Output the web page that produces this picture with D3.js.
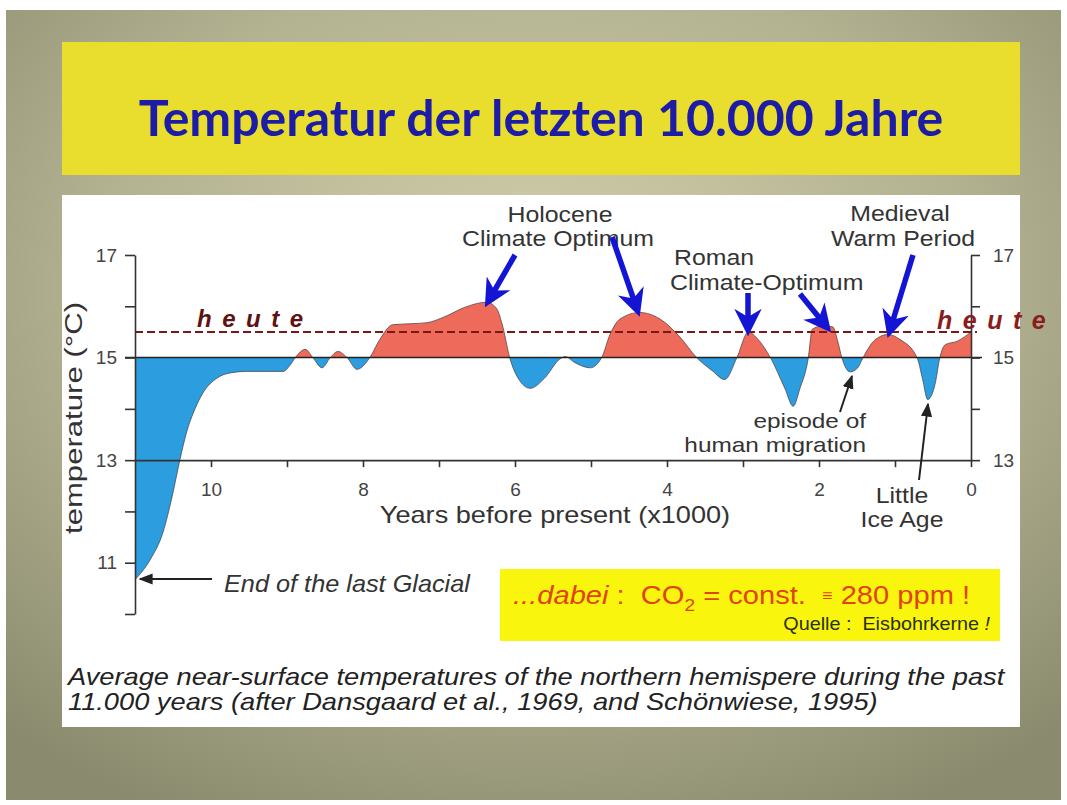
<!DOCTYPE html>
<html>
<head>
<meta charset="utf-8">
<script src="https://cdn.jsdelivr.net/npm/d3@7"></script>
<style>
  body { margin: 0; background: #fff; }
  svg text { font-family: "Liberation Sans", Arial, sans-serif; white-space: pre; }
</style>
</head>
<body>
<script>
// years before present (x1000) and temperature (°C)
var years = [11.0, 10.8, 10.63, 10.51, 10.41, 10.32, 10.21, 10.11, 9.92, 9.75, 9.53, 9.05,
  8.96, 8.89, 8.76, 8.66, 8.54, 8.43, 8.33, 8.21, 8.08, 7.91, 7.78, 7.61, 7.38, 7.16,
  6.92, 6.66, 6.37, 6.24, 6.16, 6.07, 5.96, 5.80, 5.61, 5.41, 5.34, 5.21, 5.01, 4.86,
  4.75, 4.62, 4.36, 4.09, 3.83, 3.61, 3.41, 3.24, 3.08, 2.93, 2.80, 2.64, 2.45, 2.34,
  2.25, 2.14, 2.09, 1.95, 1.82, 1.75, 1.70, 1.59, 1.49, 1.42, 1.26, 1.09, 0.93, 0.71,
  0.64, 0.57, 0.47, 0.41, 0.34, 0.18, 0.0];
var temps = [10.67, 11.06, 11.6, 12.3, 13.0, 13.55, 14.0, 14.3, 14.6, 14.7, 14.73, 14.73,
  14.85, 15.0, 15.16, 15.0, 14.8, 15.0, 15.12, 15.0, 14.77, 15.0, 15.35, 15.64, 15.66, 15.68,
  15.8, 15.98, 16.08, 15.95, 15.6, 15.0, 14.6, 14.4, 14.6, 14.97, 15.02, 14.9, 14.8, 15.0,
  15.45, 15.75, 15.88, 15.75, 15.4, 15.0, 14.75, 14.57, 15.0, 15.5, 15.35, 15.0, 14.4, 14.05,
  14.4, 15.0, 15.55, 15.62, 15.6, 15.3, 15.0, 14.72, 14.8, 15.0, 15.35, 15.45, 15.35, 15.0,
  14.6, 14.18, 14.5, 15.0, 15.25, 15.32, 15.5];

var baseTemp = 15;
var todayTemp = 15.5;
var leftTicks = [10, 11, 12, 13, 14, 15, 16, 17];
var leftLabels = [11, 13, 15, 17];
var rightTicks = [13, 14, 15, 16, 17];
var rightLabels = [13, 15, 17];
var xTicks = [0, 1, 2, 3, 4, 5, 6, 7, 8, 9, 10];
var xLabels = [0, 2, 4, 6, 8, 10];

var width = 1067, height = 805;

var svg = d3.select("body").append("svg")
  .attr("width", width)
  .attr("height", height);

var defs = svg.append("defs");
var bg = defs.append("radialGradient").attr("id", "bg")
  .attr("cx", "50%").attr("cy", "35%").attr("r", "75%");
bg.append("stop").attr("offset", "0%").attr("stop-color", "#d2cfaa");
bg.append("stop").attr("offset", "55%").attr("stop-color", "#b3b291");
bg.append("stop").attr("offset", "100%").attr("stop-color", "#8a8a6e");

svg.append("rect").attr("x", 6).attr("y", 10).attr("width", 1055).attr("height", 790)
  .attr("fill", "url(#bg)");

// title box
svg.append("rect").attr("x", 62).attr("y", 42).attr("width", 958).attr("height", 133)
  .attr("fill", "#e9dd2e");
svg.append("text")
  .attr("x", 541).attr("y", 136)
  .attr("text-anchor", "middle")
  .style("font-family", "Lato, 'Open Sans', sans-serif")
  .style("font-weight", "bold")
  .style("font-size", "50px")
  .attr("fill", "#1c1ca6")
  .text("Temperatur der letzten 10.000 Jahre");

// white panel
svg.append("rect").attr("x", 62).attr("y", 195).attr("width", 958).attr("height", 532)
  .attr("fill", "#fff");

// the scanned figure has wide lettering: stretch texts horizontally
function label(x0, y0, str, o) {
  o = o || {};
  var g = svg.append("g")
    .attr("transform", "translate(" + x0 + "," + y0 + ") scale(" + (o.sx || 1.15) + ",1)");
  return g.append("text")
    .attr("text-anchor", o.anchor || "start")
    .style("font-size", (o.size || 22) + "px")
    .style("font-style", o.italic ? "italic" : "normal")
    .attr("fill", o.fill || "#333")
    .text(str);
}

var x = d3.scaleLinear().domain([11, 0]).range([135, 971]);
var y = d3.scaleLinear().domain([10, 17]).range([614, 255]);

var pts = years.map(function (d, i) { return { t: d, v: temps[i] }; });

defs.append("clipPath").attr("id", "above")
  .append("rect").attr("x", 0).attr("y", 0).attr("width", width).attr("height", y(baseTemp));
defs.append("clipPath").attr("id", "below")
  .append("rect").attr("x", 0).attr("y", y(baseTemp)).attr("width", width).attr("height", height);

var area = d3.area()
  .x(function (d) { return x(d.t); })
  .y0(y(baseTemp))
  .y1(function (d) { return y(d.v); })
  .curve(d3.curveMonotoneX);

var line = d3.line()
  .x(function (d) { return x(d.t); })
  .y(function (d) { return y(d.v); })
  .curve(d3.curveMonotoneX);

svg.append("path").datum(pts).attr("d", area)
  .attr("fill", "#ee6b5b").attr("clip-path", "url(#above)");
svg.append("path").datum(pts).attr("d", area)
  .attr("fill", "#2c9ddf").attr("clip-path", "url(#below)");
svg.append("path").datum(pts).attr("d", line)
  .attr("fill", "none").attr("stroke", "#4a3a3a").attr("stroke-width", 1).attr("stroke-opacity", 0.7);

// 15 degree line
svg.append("line")
  .attr("x1", 125).attr("x2", 982)
  .attr("y1", y(baseTemp)).attr("y2", y(baseTemp))
  .attr("stroke", "#222").attr("stroke-width", 1.6);

// heute dashed line
svg.append("line")
  .attr("x1", x(11)).attr("x2", x(0) + 6)
  .attr("y1", y(todayTemp)).attr("y2", y(todayTemp))
  .attr("stroke", "#7a1818").attr("stroke-width", 2)
  .attr("stroke-dasharray", "8,4");

// axes
var axisStyle = function (g) {
  g.selectAll("path, line").attr("stroke", "#333").attr("stroke-width", 1.6);
  g.selectAll("text").attr("fill", "#444").style("font-size", "19px")
    .style("font-family", "'Liberation Sans', Arial, sans-serif");
};

svg.append("g")
  .attr("transform", "translate(" + x(11) + ",0)")
  .call(d3.axisLeft(y).tickValues(leftTicks).tickSize(10).tickPadding(8).tickSizeOuter(0)
    .tickFormat(function (d) { return leftLabels.indexOf(d) >= 0 ? d : ""; }))
  .call(axisStyle);

var yR = d3.scaleLinear().domain([13, 17]).range([y(13), y(17)]);
svg.append("g")
  .attr("transform", "translate(" + x(0) + ",0)")
  .call(d3.axisRight(yR).tickValues(rightTicks).tickSize(9).tickPadding(13).tickSizeOuter(0)
    .tickFormat(function (d) { return rightLabels.indexOf(d) >= 0 ? d : ""; }))
  .call(axisStyle);

svg.append("g")
  .attr("transform", "translate(0," + y(13) + ")")
  .call(d3.axisBottom(x).tickValues(xTicks).tickSize(7).tickPadding(15).tickSizeOuter(0)
    .tickFormat(function (d) { return xLabels.indexOf(d) >= 0 ? d : ""; }))
  .call(axisStyle);

// axis titles
svg.append("text")
  .attr("transform", "translate(82,418) rotate(-90)")
  .attr("text-anchor", "middle")
  .attr("textLength", 232).attr("lengthAdjust", "spacingAndGlyphs")
  .style("font-size", "23px").attr("fill", "#333")
  .text("temperature (°C)");

label(555, 523, "Years before present (x1000)", { anchor: "middle", size: 23, sx: 1.18 });

// heute labels
svg.append("text")
  .attr("x", 197).attr("y", 327)
  .style("font-size", "24px").style("font-weight", "bold").style("font-style", "italic")
  .style("letter-spacing", "10.5px")
  .attr("fill", "#5e1212")
  .text("heute");
svg.append("text")
  .attr("x", 937).attr("y", 329)
  .style("font-size", "25px").style("font-weight", "bold").style("font-style", "italic")
  .style("letter-spacing", "10.5px")
  .attr("fill", "#8a1c1c")
  .text("heute");

// annotation texts
var notes = [
  { x: 560, y: 222, a: "middle", s: "Holocene", z: 22 },
  { x: 558, y: 246, a: "middle", s: "Climate Optimum", z: 22 },
  { x: 674, y: 265, a: "start", s: "Roman", z: 22 },
  { x: 670, y: 290, a: "start", s: "Climate-Optimum", z: 22 },
  { x: 900, y: 221, a: "middle", s: "Medieval", z: 22 },
  { x: 903, y: 246, a: "middle", s: "Warm Period", z: 22 },
  { x: 866, y: 428, a: "end", s: "episode of", z: 20 },
  { x: 866, y: 452, a: "end", s: "human migration", z: 20 },
  { x: 902, y: 503, a: "middle", s: "Little", z: 22 },
  { x: 902, y: 527, a: "middle", s: "Ice Age", z: 22 }
];
notes.forEach(function (d) {
  label(d.x, d.y, d.s, { anchor: d.a, size: d.z, sx: d.z === 20 ? 1.22 : 1.13 });
});

label(224, 592, "End of the last Glacial", { size: 23, italic: true, sx: 1.1 });

// arrows
defs.append("marker").attr("id", "blueHead")
  .attr("viewBox", "0 0 10 10").attr("refX", 7).attr("refY", 5)
  .attr("markerWidth", 5).attr("markerHeight", 5).attr("orient", "auto")
  .append("path").attr("d", "M0,0 L10,5 L0,10 L3,5 Z").attr("fill", "#1414d4");
defs.append("marker").attr("id", "blackHead")
  .attr("viewBox", "0 0 10 10").attr("refX", 9).attr("refY", 5)
  .attr("markerWidth", 7).attr("markerHeight", 7).attr("orient", "auto")
  .append("path").attr("d", "M0,1 L10,5 L0,9 Z").attr("fill", "#222");

var blueArrows = [
  [515, 255, 489, 300],
  [612, 237, 637, 309],
  [748, 293, 748, 328],
  [800, 294, 826, 326],
  [913, 255, 890, 330]
];
svg.selectAll(".barrow").data(blueArrows).enter().append("line")
  .attr("class", "barrow")
  .attr("x1", function (d) { return d[0]; }).attr("y1", function (d) { return d[1]; })
  .attr("x2", function (d) { return d[2]; }).attr("y2", function (d) { return d[3]; })
  .attr("stroke", "#1414d4").attr("stroke-width", 5.5)
  .attr("marker-end", "url(#blueHead)");

var blackArrows = [
  [212, 579, 140, 579],
  [840, 412, 852, 376],
  [919, 480, 928, 404]
];
svg.selectAll(".karrow").data(blackArrows).enter().append("line")
  .attr("class", "karrow")
  .attr("x1", function (d) { return d[0]; }).attr("y1", function (d) { return d[1]; })
  .attr("x2", function (d) { return d[2]; }).attr("y2", function (d) { return d[3]; })
  .attr("stroke", "#222").attr("stroke-width", 2)
  .attr("marker-end", "url(#blackHead)");

// CO2 box
svg.append("rect").attr("x", 500).attr("y", 569).attr("width", 500).attr("height", 72)
  .attr("fill", "#f9f50c");
var co2 = svg.append("g").attr("transform", "translate(513,604) scale(1.12,1)")
  .append("text")
  .style("font-size", "26px").attr("fill", "#e2430e");
co2.append("tspan").style("font-style", "italic").text("...dabei");
co2.append("tspan").text(" :  CO");
co2.append("tspan").attr("dy", 7).style("font-size", "17px").text("2");
co2.append("tspan").attr("dy", -7).text(" = const.  ");
co2.append("tspan").style("font-size", "16px").attr("dy", -3).text("≡");
co2.append("tspan").attr("dy", 3).text(" 280 ppm !");

var q = svg.append("g").attr("transform", "translate(990,630) scale(1.1,1)")
  .append("text")
  .attr("text-anchor", "end")
  .style("font-size", "18px").attr("fill", "#2a3010");
q.append("tspan").text("Quelle :  Eisbohrkerne ");
q.append("tspan").style("font-style", "italic").text("!");

// caption
var caption = [
  "Average near-surface temperatures of the northern hemispere during the past",
  "11.000 years (after Dansgaard et al., 1969, and Schönwiese, 1995)"
];
caption.forEach(function (d, i) {
  label(68, 685 + i * 25, d, { size: 23, italic: true, fill: "#222", sx: 1.185 });
});
</script>
</body>
</html>
